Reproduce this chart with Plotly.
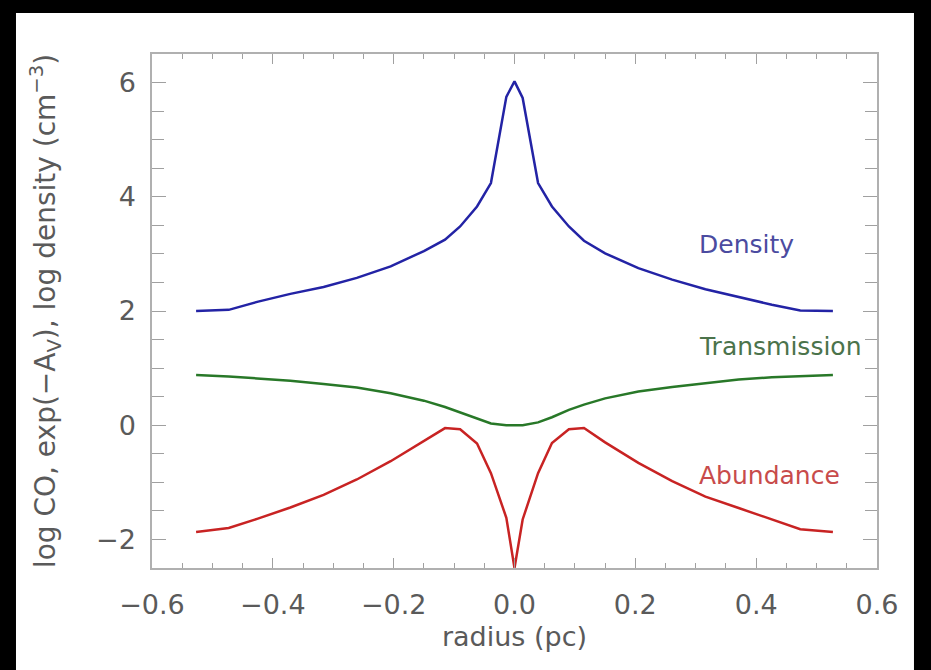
import plotly.graph_objects as go

# radius grid (pc)
radius = [-0.527, -0.473, -0.426, -0.371, -0.316, -0.261, -0.205, -0.15, -0.115, -0.09,
          -0.062, -0.039, -0.0135, 0.0, 0.0135, 0.039, 0.062, 0.09, 0.115, 0.15,
          0.205, 0.261, 0.316, 0.371, 0.426, 0.473, 0.527]

log_density = [2.00, 2.02, 2.16, 2.30, 2.42, 2.58, 2.78, 3.05, 3.25, 3.48,
               3.83, 4.24, 5.75, 6.02, 5.73, 4.24, 3.83, 3.48, 3.23, 3.01,
               2.75, 2.55, 2.38, 2.24, 2.11, 2.01, 2.00]

transmission = [0.88, 0.855, 0.82, 0.78, 0.72, 0.66, 0.56, 0.43, 0.32, 0.22,
                0.11, 0.03, 0.0, 0.0, 0.0, 0.05, 0.14, 0.27, 0.36, 0.47,
                0.59, 0.67, 0.74, 0.80, 0.84, 0.86, 0.88]

log_co = [-1.87, -1.80, -1.64, -1.44, -1.22, -0.95, -0.63, -0.27, -0.05, -0.07,
          -0.32, -0.84, -1.62, -2.5, -1.65, -0.84, -0.31, -0.07, -0.05, -0.30,
          -0.66, -0.98, -1.25, -1.45, -1.65, -1.82, -1.87]

labels = ["Density", "Transmission", "Abundance"]
label_x = [0.302, 0.302, 0.302]
label_y = [3.16, 1.37, -0.88]

line_colors = ["rgb(35,35,165)", "rgb(40,120,40)", "rgb(200,35,35)"]
text_colors = ["rgb(75,75,160)", "rgb(75,115,75)", "rgb(200,75,75)"]

fig = go.Figure()
for ys, c, n in zip([log_density, transmission, log_co], line_colors, labels):
    fig.add_trace(go.Scatter(x=radius, y=ys, mode="lines", name=n,
                             line=dict(color=c, width=2.5), showlegend=False))

for t, x, y, c in zip(labels, label_x, label_y, text_colors):
    fig.add_annotation(x=x, y=y, text=t, showarrow=False, xanchor="left",
                       yanchor="middle", font=dict(family="DejaVu Sans", size=25, color=c))

# white page area over black background
fig.add_shape(type="rect", xref="paper", yref="paper", x0=-0.1876, x1=1.051,
              y0=-0.22, y1=1.0798, fillcolor="white", line=dict(width=0), layer="below")

axis_common = dict(showline=True, linecolor="#b0b0b0", linewidth=1.5, mirror="ticks",
                   ticks="inside", tickcolor="#a0a0a0", tickwidth=1.2, showgrid=False,
                   zeroline=False,
                   tickfont=dict(family="DejaVu Sans", size=27, color="#5a5a5a"))

fig.update_xaxes(range=[-0.6, 0.6], tick0=0, dtick=0.2, tickformat=".1f", ticklen=10,
                 ticklabelstandoff=12,
                 minor=dict(dtick=0.05, ticks="inside", ticklen=5, tickcolor="#a0a0a0", tickwidth=1.2),
                 title=dict(text="radius (pc)", standoff=8,
                            font=dict(family="DejaVu Sans", size=27, color="#5a5a5a")),
                 **axis_common)
fig.update_yaxes(range=[-2.5, 6.5], tick0=0, dtick=2, tickformat="d", ticklen=14,
                 ticklabelstandoff=9,
                 minor=dict(dtick=0.5, ticks="inside", ticklen=12, tickcolor="#a0a0a0", tickwidth=1.2),
                 title=dict(text="log CO, exp(\u2212A<sub>V</sub>), log density (cm<sup>\u22123</sup>)",
                            standoff=32,
                            font=dict(family="DejaVu Sans", size=28, color="#5a5a5a")),
                 **axis_common)

fig.update_layout(width=931, height=670, margin=dict(l=152, r=54, t=54, b=102),
                  paper_bgcolor="black", plot_bgcolor="white")

fig.write_html("out.html")
